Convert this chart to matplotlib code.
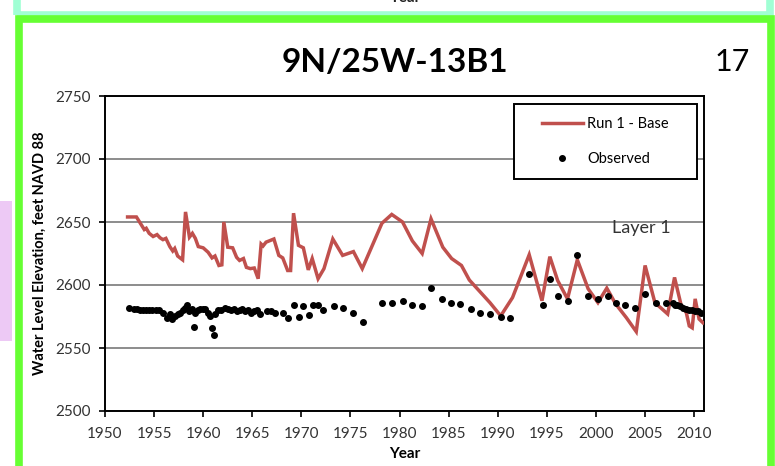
import matplotlib
matplotlib.use("Agg")
from matplotlib import pyplot as plt
from matplotlib.patches import Rectangle

# Run 1 - Base (simulated heads)
run1_years = [1952.3, 1953.2, 1954.0, 1954.2, 1954.5, 1954.9, 1955.3, 1955.6, 1955.9,
              1956.2, 1956.6, 1956.9, 1957.1, 1957.4, 1957.9, 1958.2, 1958.6, 1958.9,
              1959.2, 1959.5, 1960.0, 1960.5, 1960.9, 1961.2, 1961.6, 1961.9, 1962.1,
              1962.5, 1963.0, 1963.4, 1963.7, 1964.1, 1964.4, 1964.8, 1965.2, 1965.6,
              1965.9, 1966.1, 1966.4, 1967.2, 1967.7, 1968.1, 1968.6, 1968.9, 1969.2,
              1969.7, 1970.2, 1970.7, 1971.1, 1971.7, 1972.3, 1973.2, 1974.2, 1975.3,
              1976.2, 1978.2, 1979.2, 1980.3, 1981.3, 1982.3, 1983.2, 1984.4, 1985.3,
              1986.3, 1987.1, 1989.2, 1990.3, 1991.5, 1993.2, 1994.5, 1995.3, 1996.1,
              1997.1, 1998.1, 1999.2, 2000.2, 2001.1, 2002.0, 2003.1, 2004.1, 2005.0,
              2006.0, 2007.3, 2008.0, 2008.7, 2009.2, 2009.5, 2009.8, 2010.1, 2010.5,
              2010.9]
run1_levels = [2654, 2654, 2644, 2645, 2641, 2638.5, 2640, 2637.5, 2636,
               2637, 2630.5, 2627, 2629, 2623, 2620, 2658, 2638, 2641,
               2637, 2630.5, 2629.5, 2626, 2621.5, 2623, 2615.5, 2616, 2650,
               2630, 2629.5, 2622, 2619.5, 2621, 2614, 2613, 2613.5, 2605,
               2632.5, 2631, 2634, 2636.5, 2623.5, 2621.5, 2611.5, 2611.5, 2657,
               2631.5, 2629.5, 2612, 2621, 2605, 2613, 2636.5, 2623.5, 2626.5,
               2613, 2649, 2656, 2650, 2635, 2625, 2652.5, 2630, 2621,
               2615.5, 2604, 2586, 2575.5, 2590, 2624, 2587.5, 2622.5, 2603.5,
               2589, 2620, 2597, 2586, 2597.5, 2585, 2574, 2563, 2615.5,
               2586, 2577, 2606, 2583, 2578, 2567.5, 2566, 2589, 2573,
               2570]

# Observed water levels
obs_years = [1952.4, 1953.0, 1953.3, 1953.6, 1953.9, 1954.2, 1954.5, 1954.8, 1955.2,
             1955.5, 1955.9, 1956.3, 1956.6, 1956.8, 1957.1, 1957.4, 1957.6, 1957.9,
             1958.1, 1958.3, 1958.6, 1958.9, 1959.1, 1959.2, 1959.5, 1959.7, 1960.0,
             1960.2, 1960.5, 1960.7, 1960.9, 1961.1, 1961.2, 1961.5, 1961.8, 1962.2,
             1962.5, 1962.8, 1963.1, 1963.4, 1963.7, 1964.0, 1964.3, 1964.6, 1964.9,
             1965.2, 1965.5, 1965.8, 1966.5, 1966.9, 1967.3, 1968.1, 1968.6, 1969.2,
             1969.8, 1970.2, 1970.8, 1971.2, 1971.7, 1972.2, 1973.3, 1974.2, 1975.3,
             1976.3, 1978.2, 1979.2, 1980.3, 1981.3, 1982.3, 1983.2, 1984.3, 1985.2,
             1986.2, 1987.3, 1988.2, 1989.2, 1990.3, 1991.2, 1993.2, 1994.6, 1995.3,
             1996.1, 1997.1, 1998.1, 1999.2, 2000.2, 2001.2, 2002.0, 2003.0, 2004.0,
             2005.0, 2006.1, 2007.1, 2007.8, 2008.0, 2008.3, 2008.6, 2008.9, 2009.2,
             2009.5, 2009.8, 2010.1, 2010.4, 2010.7]
obs_levels = [2582, 2581, 2581, 2580.5, 2580.5, 2580.5, 2580.5, 2580.5, 2580,
              2580, 2577.5, 2574, 2577, 2573, 2575.5, 2577, 2578, 2580,
              2582, 2584, 2579.5, 2581, 2567, 2578, 2580, 2581, 2581,
              2581, 2578, 2575.5, 2566, 2560, 2577, 2580, 2580, 2582,
              2581, 2580, 2581, 2579, 2580, 2581, 2579, 2580, 2578,
              2579, 2580, 2577, 2579, 2579, 2577.5, 2577.5, 2574, 2584.5,
              2575, 2583, 2576.5, 2584.5, 2584.5, 2580, 2583.5, 2582, 2578,
              2571, 2585.5, 2585.5, 2587, 2584.5, 2583, 2598, 2589, 2585.5,
              2585, 2581, 2578, 2577, 2575, 2574, 2609, 2584, 2605,
              2591, 2587.5, 2624, 2591.5, 2589, 2591, 2585.5, 2584, 2582,
              2593, 2585.5, 2586, 2585.5, 2584.5, 2584, 2583, 2582, 2581,
              2580, 2580, 2579, 2579, 2578]

x_ticks = list(range(1950, 2011, 5))
y_ticks = [2500, 2550, 2600, 2650, 2700, 2750]

plt.rcParams["font.family"] = ["Lato", "DejaVu Sans"]

fig = plt.figure(figsize=(7.75, 4.66), dpi=100)

# panel frames (mint one above, green around this one)
W, H = 775.0, 466.0
fig.add_artist(Rectangle((16.5 / W, 1 - 15 / H), 753 / W, 30 / H, transform=fig.transFigure,
                         fill=False, edgecolor="#a0ffd4", linewidth=5.5))
fig.add_artist(Rectangle((18.5 / W, -10 / H), 752 / W, 457 / H,
                         transform=fig.transFigure, fill=False, edgecolor="#66ff33",
                         linewidth=5.5))
fig.add_artist(Rectangle((0, 125 / H), 12 / W, 140 / H, transform=fig.transFigure,
                         facecolor="#e6b3f2", edgecolor="none", alpha=0.7))
fig.text(405 / W, 1 + 2 / H, "Year", ha="center", va="center", fontsize=11,
         fontweight="bold", color="#222222")

ax = fig.add_axes([105 / W, 1 - 411 / H, 599 / W, 315 / H])

ax.plot(run1_years, run1_levels, color="#c0504d", linewidth=2.5, label="Run 1 - Base",
        solid_joinstyle="miter", zorder=3)
ax.plot(obs_years, obs_levels, linestyle="none", marker="o", markersize=4,
        color="black", label="Observed", zorder=4)

ax.set_xlim(1950, 2011)
ax.set_ylim(2500, 2750)
ax.set_xticks(x_ticks)
ax.set_yticks(y_ticks)
ax.grid(axis="y", color="#8c8c8c", linewidth=1.4)
ax.set_axisbelow(True)
for s in ax.spines.values():
    s.set_linewidth(1.4)
    s.set_color("black")
ax.tick_params(direction="out", length=4.5, width=1.2, labelsize=11, labelcolor="#333333")
ax.tick_params(axis="x", pad=7)
ax.tick_params(axis="y", pad=6)

ax.set_xlabel("Year", fontsize=11, fontweight="bold", labelpad=4)
ax.set_ylabel("Water Level Elevation, feet NAVD 88", fontsize=10.5, fontweight="bold",
              labelpad=6)

ax.text(0.896, 0.58, "Layer 1", transform=ax.transAxes, fontsize=13, color="#333333",
        ha="center", va="center")

# legend box drawn by hand so its padding matches
ax.add_patch(Rectangle((0.683, 0.736), 0.305, 0.239, transform=ax.transAxes,
                       facecolor="white", edgecolor="black", linewidth=1.4, zorder=5))
leg = ax.legend(loc="center", bbox_to_anchor=(0.8355, 0.8555), frameon=False,
                fontsize=10.5, handlelength=2.8, labelspacing=1.4, handletextpad=0.3)
leg.set_zorder(6)

fig.text(395 / W, 1 - 63 / H, "9N/25W-13B1", ha="center", va="center", fontsize=24,
         fontweight="bold", color="black")
fig.text(732 / W, 1 - 62 / H, "17", ha="center", va="center", fontsize=22, color="black")

fig.savefig("out.png", dpi=100)
